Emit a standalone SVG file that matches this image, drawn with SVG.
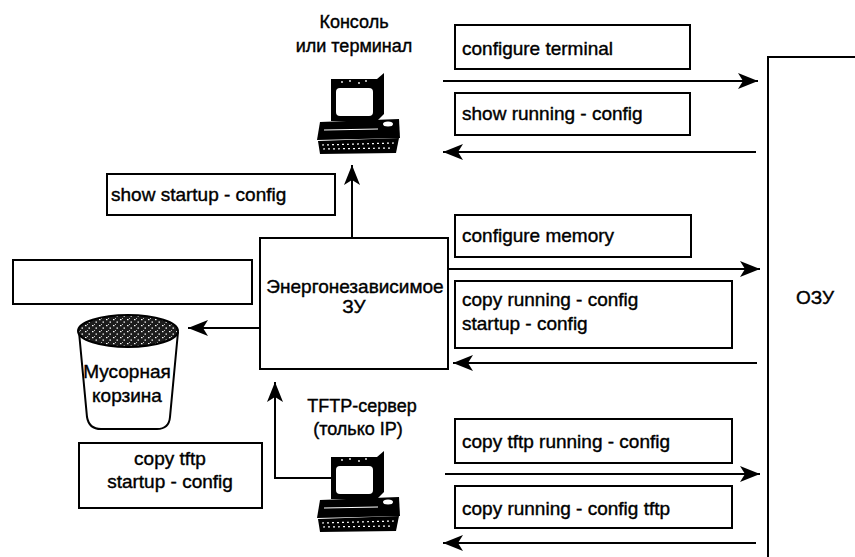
<svg xmlns="http://www.w3.org/2000/svg" width="855" height="557" viewBox="0 0 855 557">
  <style>
    .box { fill: #fff; stroke: #000; stroke-width: 2; }
    .t { font-family: "Liberation Sans", Arial, sans-serif; font-size: 19px; fill: #000; stroke: #000; stroke-width: 0.4; }
    .lbl { font-family: "Liberation Sans", Arial, sans-serif; font-size: 18px; fill: #000; stroke: #000; stroke-width: 0.4; text-anchor: middle; }
    .mid { text-anchor: middle; }
    .conn { fill: none; stroke: #000; stroke-width: 2; }
    .arr { marker-end: url(#ah); }
  </style>
  <defs>
    <marker id="ah" markerUnits="userSpaceOnUse" markerWidth="22" markerHeight="18" refX="20" refY="8" orient="auto">
      <path d="M0,0 L20,8 L0,16 L5,8 Z" fill="#000"/>
    </marker>
    <!-- speckled fill for the rubbish in the bin -->
    <pattern id="speckle" width="7" height="6" patternUnits="userSpaceOnUse">
      <rect width="7" height="6" fill="#1c1c1c"/>
      <rect x="1" y="1" width="1.5" height="1.2" fill="#fff"/>
      <rect x="4.5" y="3.5" width="1.5" height="1.2" fill="#fff"/>
      <rect x="3" y="0" width="1" height="1" fill="#bbb"/>
    </pattern>
    <!-- desktop computer icon -->
    <g id="pc">
      <!-- monitor front and side -->
      <rect x="331" y="79" width="46" height="42" fill="#000"/>
      <polygon points="377,79 384,73 384,114 377,121" fill="#000"/>
      <rect x="336" y="88" width="37" height="28" rx="4" fill="#fff"/>
      <circle cx="342" cy="82" r="0.9" fill="#fff"/>
      <circle cx="350" cy="81" r="0.9" fill="#fff"/>
      <circle cx="359" cy="83" r="0.9" fill="#fff"/>
      <circle cx="366" cy="81" r="0.9" fill="#fff"/>
      <!-- system unit -->
      <polygon points="320,122 399,119 400,138 317,140" fill="#000"/>
      <line x1="324" y1="130" x2="378" y2="129" stroke="#fff" stroke-width="1.2"/>
      <ellipse cx="388" cy="124" rx="5" ry="2.5" fill="#fff"/>
      <!-- keyboard -->
      <polygon points="318,141 399,138 396,153 320,154" fill="#000"/>
      <g stroke="#fff" stroke-width="1.2" stroke-dasharray="2 3">
        <line x1="322" y1="145" x2="394" y2="143"/>
        <line x1="323" y1="149" x2="393" y2="148"/>
      </g>
    </g>
  </defs>

  <rect width="855" height="557" fill="#fff"/>

  <!-- connectors -->
  <g id="connectors">
    <line class="conn arr" x1="443" y1="81" x2="758" y2="81"/>
    <line class="conn arr" x1="756" y1="152" x2="443" y2="152"/>
    <line class="conn arr" x1="352" y1="238" x2="352" y2="165"/>
    <line class="conn arr" x1="448" y1="269" x2="760" y2="269"/>
    <line class="conn arr" x1="757" y1="363" x2="453" y2="363"/>
    <line class="conn arr" x1="260" y1="328" x2="188" y2="328"/>
    <polyline class="conn arr" points="332,478 275,478 275,382"/>
    <line class="conn arr" x1="445" y1="474" x2="760" y2="474"/>
    <line class="conn arr" x1="756" y1="543" x2="443" y2="543"/>
  </g>

  <!-- RAM (open to the right) -->
  <g id="ram">
    <path class="conn" d="M855,57 L768,57 L768,557"/>
    <text class="t mid" x="815" y="304">ОЗУ</text>
  </g>

  <!-- console -->
  <g id="console">
    <text class="lbl" x="354" y="28">Консоль</text>
    <text class="lbl" x="354" y="52">или терминал</text>
    <use href="#pc"/>
  </g>

  <!-- TFTP server -->
  <g id="tftp">
    <text class="lbl" x="362" y="412">TFTP-сервер</text>
    <text class="lbl" x="358" y="435">(только IP)</text>
    <use href="#pc" transform="translate(0,378)"/>
  </g>

  <!-- NVRAM -->
  <g id="nvram">
    <rect class="box" x="260" y="238" width="188" height="131"/>
    <text class="t mid" x="355" y="293">Энергонезависимое</text>
    <text class="t mid" x="354" y="313">ЗУ</text>
  </g>

  <!-- rubbish bin -->
  <g id="bin">
    <path d="M79,332 L87,417 Q89,429 101,429 L157,429 Q169,429 170,417 L178,332" fill="#fff" stroke="#000" stroke-width="2"/>
    <ellipse cx="128" cy="331" rx="50" ry="16" fill="url(#speckle)" stroke="#000" stroke-width="2"/>
    <text class="t mid" x="127" y="378">Мусорная</text>
    <text class="t mid" x="127" y="402">корзина</text>
  </g>

  <!-- command boxes -->
  <g id="cmd-conf-term">
    <rect class="box" x="455" y="25" width="235" height="44"/>
    <text class="t" x="462" y="55">configure terminal</text>
  </g>
  <g id="cmd-show-run">
    <rect class="box" x="455" y="93" width="235" height="42"/>
    <text class="t" x="462" y="120">show running - config</text>
  </g>
  <g id="cmd-show-start">
    <rect class="box" x="107" y="174" width="228" height="41"/>
    <text class="t" x="111" y="201">show startup - config</text>
  </g>
  <g id="cmd-conf-mem">
    <rect class="box" x="455" y="215" width="236" height="42"/>
    <text class="t" x="462" y="242">configure memory</text>
  </g>
  <g id="cmd-copy-run-start">
    <rect class="box" x="455" y="281" width="277" height="67"/>
    <text class="t" x="462" y="306">copy running - config</text>
    <text class="t" x="462" y="330">startup - config</text>
  </g>
  <g id="cmd-erase">
    <rect class="box" x="13" y="260" width="239" height="44"/>
  </g>
  <g id="cmd-copy-tftp-start">
    <rect class="box" x="79" y="443" width="183" height="65"/>
    <text class="t mid" x="170" y="465">copy tftp</text>
    <text class="t mid" x="170" y="488">startup - config</text>
  </g>
  <g id="cmd-copy-tftp-run">
    <rect class="box" x="455" y="419" width="277" height="44"/>
    <text class="t" x="462" y="448">copy tftp running - config</text>
  </g>
  <g id="cmd-copy-run-tftp">
    <rect class="box" x="455" y="486" width="277" height="42"/>
    <text class="t" x="462" y="515">copy running - config tftp</text>
  </g>
</svg>
